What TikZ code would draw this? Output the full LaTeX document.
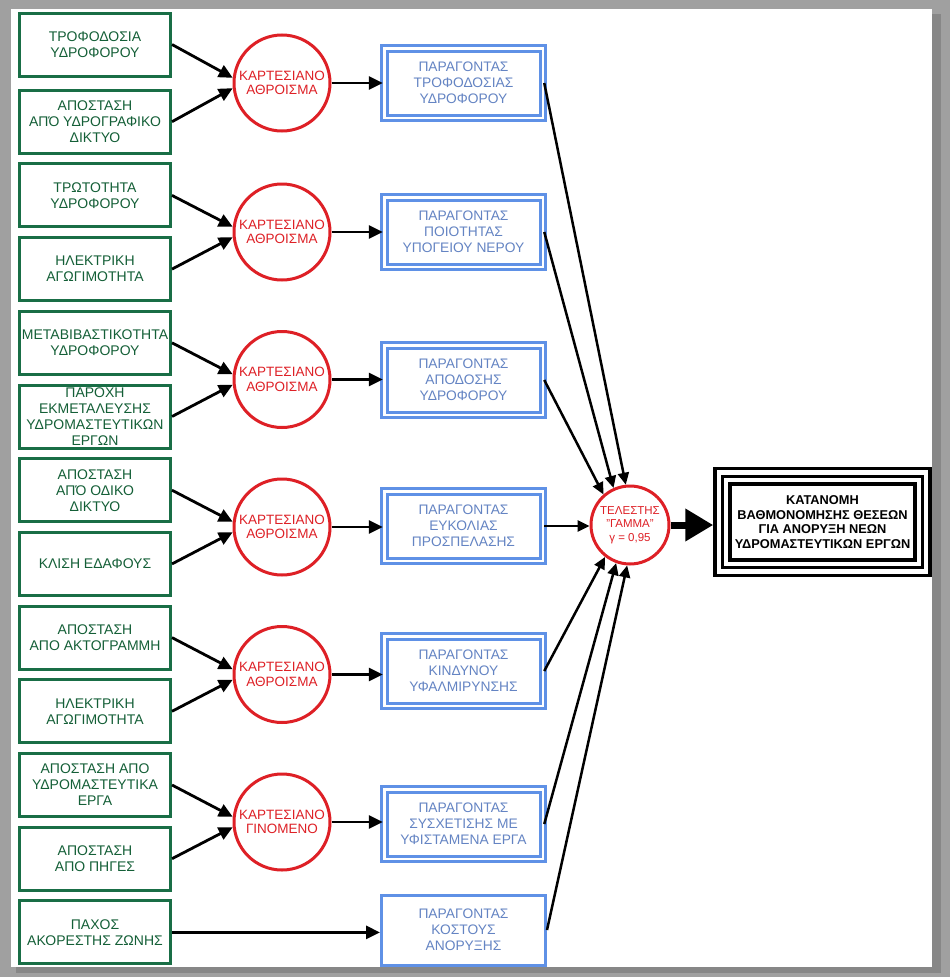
\documentclass[tikz,border=0pt]{standalone}
\usepackage{fontspec}
\setmainfont{Liberation Sans}
\usetikzlibrary{arrows.meta,shapes.geometric}
\definecolor{gbord}{RGB}{25,110,70}
\definecolor{gtext}{RGB}{20,95,55}
\definecolor{rcol}{RGB}{222,32,38}
\definecolor{bbord}{RGB}{95,145,230}
\definecolor{btext}{RGB}{100,132,195}
\definecolor{frame}{RGB}{160,160,160}
\definecolor{shadowc}{RGB}{135,135,135}
\begin{document}
\begin{tikzpicture}[x=1pt,y=-1pt,
  inbox/.style={draw=gbord, line width=3pt, minimum width=151pt, minimum height=63pt,
    inner sep=0pt, align=center, text=gtext, font=\fontsize{14}{16}\selectfont},
  op/.style={circle, draw=rcol, line width=3pt, minimum size=96pt,
    inner sep=0pt, align=center, text=rcol, font=\fontsize{13.5}{14.5}\selectfont},
  fac/.style={draw=bbord, double=white, double distance=2.5pt, line width=3pt,
    minimum width=158.5pt, minimum height=69.5pt, inner sep=0pt, align=center,
    text=btext, font=\fontsize{13.8}{16}\selectfont},
  facone/.style={draw=bbord, line width=3pt, minimum width=164pt, minimum height=70pt,
    inner sep=0pt, align=center, text=btext, font=\fontsize{13.8}{16}\selectfont},
  arr/.style={line width=2.8pt, -{Triangle[length=14pt,width=13pt]}},
  arrs/.style={line width=2.5pt, -{Triangle[length=12pt,width=11pt]}},
]
\useasboundingbox (0,0) rectangle (950,977);
% frame
\fill[frame] (0,0) rectangle (950,977);
\fill[shadowc] (16,14) rectangle (941,973);
\fill[white] (11,9) rectangle (932,967);

% input boxes
\node[inbox] (g1)  at (95,44.5)  {ΤΡΟΦΟΔΟΣΙΑ\\ΥΔΡΟΦΟΡΟΥ};
\node[inbox] (g2)  at (95,121.7) {ΑΠΟΣΤΑΣΗ\\ΑΠΌ ΥΔΡΟΓΡΑΦΙΚΟ\\ΔΙΚΤΥΟ};
\node[inbox] (g3)  at (95,195.4) {ΤΡΩΤΟΤΗΤΑ\\ΥΔΡΟΦΟΡΟΥ};
\node[inbox] (g4)  at (95,269.1) {ΗΛΕΚΤΡΙΚΗ\\ΑΓΩΓΙΜΟΤΗΤΑ};
\node[inbox] (g5)  at (95,342.8) {ΜΕΤΑΒΙΒΑΣΤΙΚΟΤΗΤΑ\\ΥΔΡΟΦΟΡΟΥ};
\node[inbox] (g6)  at (95,416.5) {ΠΑΡΟΧΗ\\ΕΚΜΕΤΑΛΕΥΣΗΣ\\ΥΔΡΟΜΑΣΤΕΥΤΙΚΩΝ\\ΕΡΓΩΝ};
\node[inbox] (g7)  at (95,490.2) {ΑΠΟΣΤΑΣΗ\\ΑΠΌ ΟΔΙΚΟ\\ΔΙΚΤΥΟ};
\node[inbox] (g8)  at (95,563.9) {ΚΛΙΣΗ ΕΔΑΦΟΥΣ};
\node[inbox] (g9)  at (95,637.6) {ΑΠΟΣΤΑΣΗ\\ΑΠΟ ΑΚΤΟΓΡΑΜΜΗ};
\node[inbox] (g10) at (95,711.3) {ΗΛΕΚΤΡΙΚΗ\\ΑΓΩΓΙΜΟΤΗΤΑ};
\node[inbox] (g11) at (95,785)   {ΑΠΟΣΤΑΣΗ ΑΠΟ\\ΥΔΡΟΜΑΣΤΕΥΤΙΚΑ\\ΕΡΓΑ};
\node[inbox] (g12) at (95,858.7) {ΑΠΟΣΤΑΣΗ\\ΑΠΟ ΠΗΓΕΣ};
\node[inbox] (g13) at (95,932.4) {ΠΑΧΟΣ\\ΑΚΟΡΕΣΤΗΣ ΖΩΝΗΣ};

% operators
\node[op] (c1) at (282,83)    {ΚΑΡΤΕΣΙΑΝΟ\\ΑΘΡΟΙΣΜΑ};
\node[op] (c2) at (282,232)   {ΚΑΡΤΕΣΙΑΝΟ\\ΑΘΡΟΙΣΜΑ};
\node[op] (c3) at (282,379.5) {ΚΑΡΤΕΣΙΑΝΟ\\ΑΘΡΟΙΣΜΑ};
\node[op] (c4) at (282,527)   {ΚΑΡΤΕΣΙΑΝΟ\\ΑΘΡΟΙΣΜΑ};
\node[op] (c5) at (282,674.5) {ΚΑΡΤΕΣΙΑΝΟ\\ΑΘΡΟΙΣΜΑ};
\node[op] (c6) at (282,822)   {ΚΑΡΤΕΣΙΑΝΟ\\ΓΙΝΟΜΕΝΟ};

% factors
\node[fac] (f1) at (463.5,83)    {ΠΑΡΑΓΟΝΤΑΣ\\ΤΡΟΦΟΔΟΣΙΑΣ\\ΥΔΡΟΦΟΡΟΥ};
\node[fac] (f2) at (463.5,232)   {ΠΑΡΑΓΟΝΤΑΣ\\ΠΟΙΟΤΗΤΑΣ\\ΥΠΟΓΕΙΟΥ ΝΕΡΟΥ};
\node[fac] (f3) at (463.5,380)   {ΠΑΡΑΓΟΝΤΑΣ\\ΑΠΟΔΟΣΗΣ\\ΥΔΡΟΦΟΡΟΥ};
\node[fac] (f4) at (463.5,526)   {ΠΑΡΑΓΟΝΤΑΣ\\ΕΥΚΟΛΙΑΣ\\ΠΡΟΣΠΕΛΑΣΗΣ};
\node[fac] (f5) at (463.5,671)   {ΠΑΡΑΓΟΝΤΑΣ\\ΚΙΝΔΥΝΟΥ\\ΥΦΑΛΜΙΡΥΝΣΗΣ};
\node[fac] (f6) at (463.5,824)   {ΠΑΡΑΓΟΝΤΑΣ\\ΣΥΣΧΕΤΙΣΗΣ ΜΕ\\ΥΦΙΣΤΑΜΕΝΑ ΕΡΓΑ};
\node[facone] (f7) at (463.5,930) {ΠΑΡΑΓΟΝΤΑΣ\\ΚΟΣΤΟΥΣ\\ΑΝΟΡΥΞΗΣ};

% gamma operator
\node[circle, draw=rcol, line width=3pt, minimum size=78pt,
  inner sep=0pt, align=center, text=rcol, font=\fontsize{11.5}{13.3}\selectfont]
  (gam) at (630,525) {ΤΕΛΕΣΤΗΣ\\"ΓΑΜΜΑ"\\γ = 0,95};

% final result
\node[draw=black, line width=3.5pt, minimum width=215pt, minimum height=107pt,
  inner sep=0pt, align=center, font=\bfseries\fontsize{12.8}{14.6}\selectfont]
  (fin) at (822.5,522) {ΚΑΤΑΝΟΜΗ\\ΒΑΘΜΟΝΟΜΗΣΗΣ ΘΕΣΕΩΝ\\ΓΙΑ ΑΝΟΡΥΞΗ ΝΕΩΝ\\ΥΔΡΟΜΑΣΤΕΥΤΙΚΩΝ ΕΡΓΩΝ};
\draw[line width=3pt] ([shift={(9.5pt,-9.5pt)}]fin.north west) rectangle ([shift={(-9.5pt,9.5pt)}]fin.south east);
\draw[line width=4.3pt] ([shift={(17pt,-17pt)}]fin.north west) rectangle ([shift={(-17pt,17pt)}]fin.south east);

% inputs to operators
\draw[arr] (g1.east)  -- (c1.174);
\draw[arr] (g2.east)  -- (c1.186);
\draw[arr] (g3.east)  -- (c2.174);
\draw[arr] (g4.east)  -- (c2.186);
\draw[arr] (g5.east)  -- (c3.174);
\draw[arr] (g6.east)  -- (c3.186);
\draw[arr] (g7.east)  -- (c4.174);
\draw[arr] (g8.east)  -- (c4.186);
\draw[arr] (g9.east)  -- (c5.174);
\draw[arr] (g10.east) -- (c5.186);
\draw[arr] (g11.east) -- (c6.174);
\draw[arr] (g12.east) -- (c6.186);

% operators to factors
\draw[arr] (c1.east) -- (c1.east -| f1.west);
\draw[arr] (c2.east) -- (c2.east -| f2.west);
\draw[arr] (c3.east) -- (c3.east -| f3.west);
\draw[arr] (c4.east) -- (c4.east -| f4.west);
\draw[arr] (c5.east) -- (c5.east -| f5.west);
\draw[arr] (c6.east) -- (c6.east -| f6.west);
\draw[arr] (g13.east) -- (g13.east -| f7.west);

% factors to gamma
\draw[arrs] (f1.east) -- (gam.96);
\draw[arrs] (f2.east) -- (gam.114);
\draw[arrs] (f3.east) -- (gam.131);
\draw[arrs] (f4.east) -- (f4.east -| gam.west);
\draw[arrs] (f5.east) -- (gam.232);
\draw[arrs] (f6.east) -- (gam.250);
\draw[arrs] (f7.east) -- (gam.266);

% gamma to result
\draw[line width=7pt, -{Triangle[length=28pt,width=31pt]}] (gam.east) -- (gam.east -| fin.west);
\end{tikzpicture}
\end{document}
